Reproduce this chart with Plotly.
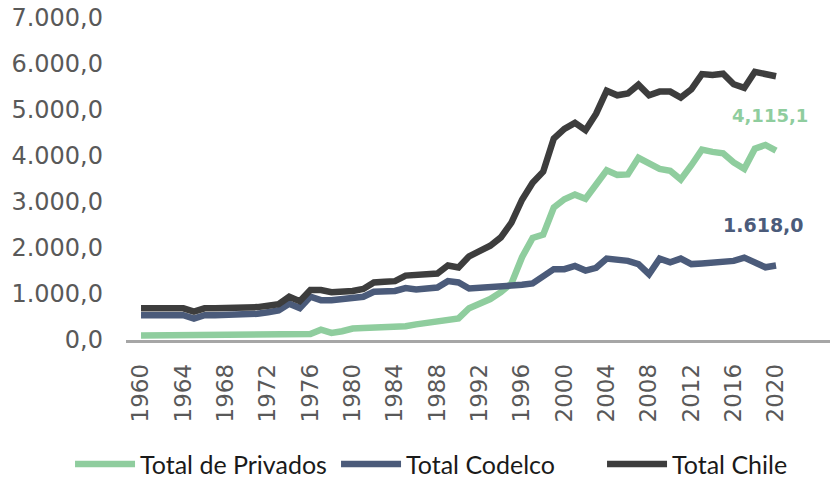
import plotly.graph_objects as go

years = list(range(1960, 2021))

total_privados = [
    100, 100, 102, 104, 105, 106, 108, 110, 110, 112,
    114, 116, 118, 120, 122, 125, 130, 225, 155, 190,
    250, 260, 262, 265, 270, 300, 340, 375, 420, 430,
    470, 690, 800, 890, 1040, 1230, 1800, 2220, 2290, 2880,
    3060, 3160, 3070, 3360, 3690, 3590, 3600, 3960, 3830, 3720,
    3680, 3490, 3800, 4140, 4090, 4060, 3860, 3720, 4160, 4240,
    4115.1,
]

total_codelco = [
    540, 540, 540, 540, 540, 465, 540, 540, 540, 540,
    545, 570, 605, 645, 790, 695, 940, 865, 865, 885,
    910, 940, 1050, 1060, 1066, 1130, 1100, 1120, 1140, 1280,
    1250, 1120, 1130, 1140, 1155, 1175, 1200, 1230, 1390, 1540,
    1540, 1610, 1510, 1570, 1770, 1750, 1720, 1650, 1430, 1770,
    1690, 1770, 1650, 1665, 1680, 1700, 1720, 1790, 1690, 1580,
    1618.0,
]

total_chile = [
    688, 688, 688, 688, 688, 616, 688, 688, 688, 688,
    690, 715, 745, 780, 940, 845, 1085, 1085, 1040, 1050,
    1065, 1110, 1250, 1265, 1280, 1400, 1415, 1430, 1445, 1620,
    1575, 1820, 1940, 2050, 2230, 2550, 3050, 3420, 3660, 4380,
    4590, 4720, 4560, 4920, 5420, 5320, 5360, 5550, 5320, 5400,
    5400, 5270, 5450, 5780, 5760, 5790, 5560, 5480, 5830, 5790,
    5733.1,
]

x_ticks = list(range(1960, 2021, 4))
y_ticks = [0, 1000, 2000, 3000, 4000, 5000, 6000, 7000]
y_tick_labels = ["0,0", "1.000,0", "2.000,0", "3.000,0", "4.000,0",
                 "5.000,0", "6.000,0", "7.000,0"]

series_names = ["Total de Privados", "Total Codelco", "Total Chile"]
series_colors = ["#8fcd9e", "#4b5b7a", "#3d3d3d"]
series_values = [total_privados, total_codelco, total_chile]

label_privados = "4,115,1"
label_codelco = "1.618,0"

fig = go.Figure()
for name, color, vals in zip(series_names, series_colors, series_values):
    fig.add_trace(go.Scatter(
        x=years, y=vals, name=name, mode="lines",
        line=dict(color=color, width=6.5),
        hoverinfo="skip",
    ))

fig.add_annotation(x=2019.45, y=4880, text=label_privados, showarrow=False,
                   font=dict(family="DejaVu Sans", size=18, color=series_colors[0], weight="bold"))
fig.add_annotation(x=2018.8, y=2500, text=label_codelco, showarrow=False,
                   font=dict(family="DejaVu Sans", size=19, color=series_colors[1], weight="bold"))

fig.update_layout(
    width=830, height=478,
    margin=dict(l=126, r=0, t=18, b=137.5, autoexpand=False),
    paper_bgcolor="white", plot_bgcolor="white",
    showlegend=True,
    legend=dict(
        orientation="h", xref="paper", yref="paper",
        x=-0.0795, xanchor="left", y=-0.386, yanchor="middle",
        font=dict(family="Lato", size=25, color="#1a1a1a"),
        entrywidth=191, entrywidthmode="pixels", itemwidth=60,
        bgcolor="rgba(0,0,0,0)",
    ),
    xaxis=dict(
        range=[1958.58, 2025.1], tickvals=x_ticks, ticktext=[str(v) for v in x_ticks],
        tickangle=-90, showgrid=False, zeroline=False,
        showline=True, linecolor="#a6a6a6", linewidth=2.5,
        ticks="", ticklabelstandoff=12,
        tickfont=dict(family="DejaVu Sans", size=23, color="#595959"),
    ),
    yaxis=dict(
        range=[0, 7000], tickvals=y_ticks, ticktext=y_tick_labels,
        showgrid=False, zeroline=False, showline=False, ticks="",
        ticklabelstandoff=22,
        tickfont=dict(family="DejaVu Sans", size=24, color="#595959"),
    ),
)

fig.write_html("out.html", config={"displayModeBar": False},
               post_script="document.body.style.margin='0';")
